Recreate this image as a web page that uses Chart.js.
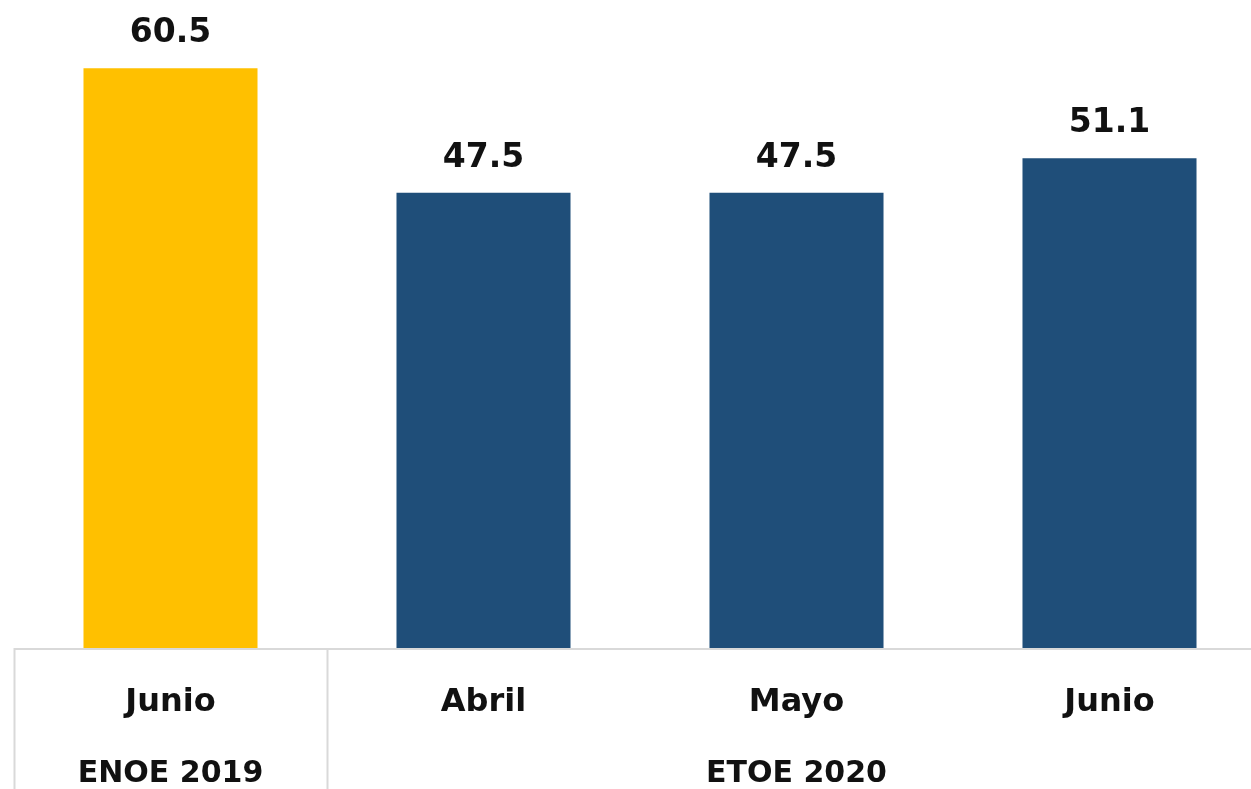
<!DOCTYPE html>
<html>
<head>
<meta charset="utf-8">
<script src="https://cdn.jsdelivr.net/npm/chart.js@4/dist/chart.umd.min.js"></script>
<style>
  html, body { margin: 0; padding: 0; background: #fff; overflow: hidden; }
  #wrap { position: relative; width: 1266px; height: 789px; }
</style>
</head>
<body>
<div id="wrap"><canvas id="chart"></canvas></div>
<script>
// Chart data.
const months = ["Junio", "Abril", "Mayo", "Junio"];
const values = [60.5, 47.5, 47.5, 51.1];
const barColors = ["#FFC000", "#1F4E79", "#1F4E79", "#1F4E79"];
// Survey groups: label and range of category indexes they cover.
const groupNames = ["ENOE 2019", "ETOE 2020"];
const groupStart = [0, 1];
const groupEnd = [0, 3];

const FONT = "'DejaVu Sans', sans-serif";

/**
 * labelsPlugin draws value labels, category labels, survey group labels
 * and the light grey axis/separator lines below the bars.
 */
const labelsPlugin = {
  id: "labels",
  afterDatasetsDraw(chart) {
    const ctx = chart.ctx;
    const x = chart.scales.x;
    const area = chart.chartArea;
    const meta = chart.getDatasetMeta(0);

    ctx.save();
    ctx.fillStyle = "#111";
    ctx.textAlign = "center";
    ctx.textBaseline = "alphabetic";

    // Values above bars.
    ctx.font = "bold 33px " + FONT;
    meta.data.forEach((bar, i) => {
      ctx.fillText(values[i].toFixed(1), bar.x, bar.y - 26);
    });

    // Axis line and group separators.
    ctx.strokeStyle = "#d9d9d9";
    ctx.lineWidth = 2;
    ctx.beginPath();
    ctx.moveTo(area.left, area.bottom + 1);
    ctx.lineTo(area.right, area.bottom + 1);
    const half = (x.getPixelForValue(1) - x.getPixelForValue(0)) / 2;
    groupStart.forEach(s => {
      const sx = Math.round(x.getPixelForValue(s) - half) + 0.5;
      ctx.moveTo(sx, area.bottom);
      ctx.lineTo(sx, chart.height);
    });
    ctx.stroke();

    // Month labels.
    ctx.font = "bold 32px " + FONT;
    months.forEach((m, i) => {
      ctx.fillText(m, x.getPixelForValue(i), area.bottom + 63);
    });

    // Group labels.
    ctx.font = "bold 30px " + FONT;
    groupNames.forEach((g, i) => {
      const cx = (x.getPixelForValue(groupStart[i]) + x.getPixelForValue(groupEnd[i])) / 2;
      ctx.fillText(g, cx, area.bottom + 134);
    });
    ctx.restore();
  }
};

new Chart(document.getElementById("chart"), {
  type: "bar",
  data: {
    labels: months,
    datasets: [{
      data: values,
      backgroundColor: barColors,
      borderWidth: 0,
      barPercentage: 0.556,
      categoryPercentage: 1
    }]
  },
  options: {
    responsive: true,
    maintainAspectRatio: false,
    animation: false,
    layout: { padding: { left: 14, right: 0, top: 6, bottom: 141 } },
    plugins: { legend: { display: false }, tooltip: { enabled: false } },
    scales: {
      x: { display: false, grid: { display: false } },
      y: { display: false, min: 0, max: 67 }
    }
  },
  plugins: [labelsPlugin]
});
</script>
</body>
</html>
